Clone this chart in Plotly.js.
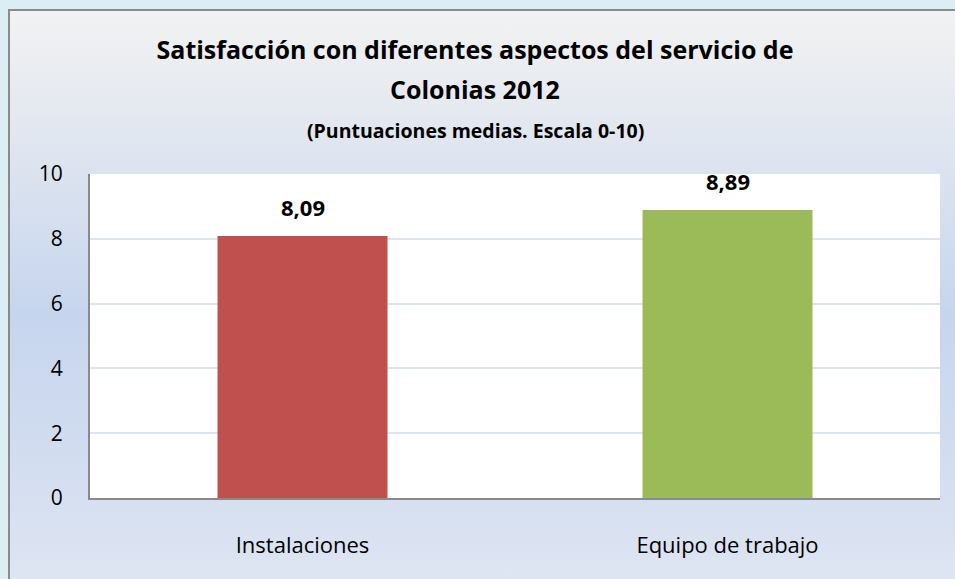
<!DOCTYPE html>
<html>
<head>
<meta charset="utf-8">
<script src="https://cdn.plot.ly/plotly-3.0.1.min.js"></script>
<style>
  html, body { margin: 0; padding: 0; width: 955px; height: 579px; overflow: hidden; background: #dbeef4; }
  #frame { position: absolute; left: 8px; top: 9px; width: 960px; height: 580px;
           border-left: 2px solid #8a8a8a; border-top: 2px solid #8a8a8a;
           background: linear-gradient(to bottom, #f2f2f2 0%, #dce3ef 28%, #c6d5ee 52%, #d3ddf0 78%, #dfe6f3 100%); }
  #chart { position: absolute; left: 0; top: 0; width: 955px; height: 579px; }
</style>
</head>
<body>
<div id="frame"></div>
<div id="chart"></div>
<script>
const categories = ["Instalaciones", "Equipo de trabajo"];
const values = [8.09, 8.89];
const barColors = ["#c0504d", "#9bbb59"];
const yTicks = [0, 2, 4, 6, 8, 10];
const titleLine1 = "Satisfacción con diferentes aspectos del servicio de";
const titleLine2 = "Colonias 2012";
const subtitle = "(Puntuaciones medias. Escala 0-10)";

const fontFam = "'Open Sans', sans-serif";
const H = 579, plotTop = 174, plotBottom = 498, plotLeft = 90, plotRight = 940;
const paperY = px => (plotBottom - px) / (plotBottom - plotTop);
const paperX = px => (px - plotLeft) / (plotRight - plotLeft);
const fmt = v => v.toFixed(2).replace(".", ",");

const trace = {
  type: "bar",
  x: categories,
  y: values,
  marker: { color: barColors },
  width: 0.4,
  hoverinfo: "skip"
};

const valueLabels = categories.map((c, i) => ({
  text: "<b>" + fmt(values[i]) + "</b>",
  x: c, y: values[i], xref: "x", yref: "y",
  xanchor: "center", yanchor: "bottom", yshift: 12, showarrow: false,
  font: { family: fontFam, size: 22, color: "#000000" }
}));

const layout = {
  width: 955,
  height: 579,
  separators: ",.",
  paper_bgcolor: "rgba(0,0,0,0)",
  plot_bgcolor: "#ffffff",
  margin: { l: plotLeft, r: 955 - plotRight, t: plotTop, b: H - plotBottom },
  showlegend: false,
  title: {
    text: "<b>" + titleLine1 + "</b>",
    font: { family: fontFam, size: 25, color: "#000000" },
    x: 475 / 955,
    xanchor: "center",
    yref: "container",
    y: 1 - 50 / H,
    yanchor: "middle"
  },
  annotations: [
    { text: "<b>" + titleLine2 + "</b>", xref: "paper", yref: "paper",
      x: paperX(475), y: paperY(89), xanchor: "center", yanchor: "middle", showarrow: false,
      font: { family: fontFam, size: 25, color: "#000000" } },
    { text: "<b>" + subtitle + "</b>", xref: "paper", yref: "paper",
      x: paperX(475), y: paperY(130), xanchor: "center", yanchor: "middle", showarrow: false,
      font: { family: fontFam, size: 19.5, color: "#000000" } }
  ].concat(valueLabels),
  xaxis: {
    type: "category",
    showline: true,
    linecolor: "#8a8a8a",
    linewidth: 2,
    ticks: "",
    tickfont: { family: fontFam, size: 22, color: "#000000" },
    ticklabelstandoff: 27,
    showgrid: false,
    zeroline: false
  },
  yaxis: {
    range: [0, 10],
    tickvals: yTicks,
    ticktext: yTicks.map(String),
    showline: true,
    linecolor: "#8a8a8a",
    linewidth: 2,
    ticks: "",
    ticklabelstandoff: 21,
    tickfont: { family: fontFam, size: 21, color: "#000000" },
    gridcolor: "#dce6f2",
    gridwidth: 2,
    zeroline: false
  }
};

Plotly.newPlot("chart", [trace], layout, { displayModeBar: false, staticPlot: true });
</script>
</body>
</html>
